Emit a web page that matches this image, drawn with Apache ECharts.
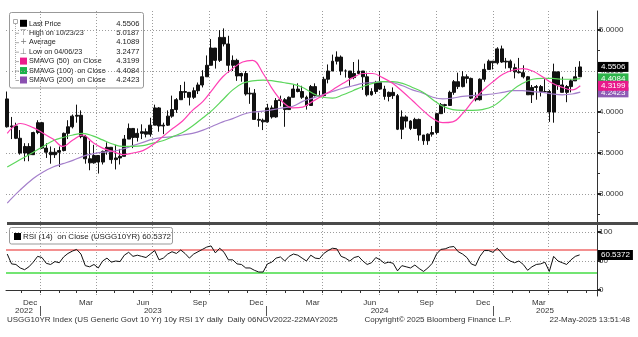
<!DOCTYPE html>
<html><head><meta charset="utf-8">
<script src="https://cdn.jsdelivr.net/npm/echarts@6/dist/echarts.min.js"></script>
<style>html,body{margin:0;padding:0;background:#fff}#c{width:638px;height:337px}</style>
</head><body><div id="c"></div>
<script>
const FONT = "'Liberation Sans',Arial,sans-serif";
const FS = 8;

// ---- weekly price data (US 10Y yield), week of 07-Nov-2022 .. week of 19-May-2025
const firstOpen = 4.16;
const weekHigh = [4.25,3.94,3.87,3.78,3.62,3.62,3.76,3.90,3.88,3.62,3.58,3.56,3.58,3.75,3.90,3.97,4.09,4.02,3.72,3.65,3.60,3.47,3.53,3.63,3.57,3.60,3.55,3.72,3.86,3.80,3.80,3.85,3.80,3.93,4.09,4.06,3.87,4.02,4.20,4.17,4.33,4.37,4.24,4.30,4.36,4.51,4.69,4.89,4.78,5.00,5.02,4.93,4.69,4.65,4.48,4.50,4.30,4.28,3.99,3.92,4.10,4.08,4.17,4.20,4.17,4.19,4.33,4.35,4.32,4.20,4.33,4.35,4.26,4.43,4.58,4.70,4.74,4.69,4.52,4.50,4.61,4.64,4.50,4.48,4.29,4.38,4.50,4.32,4.25,4.30,4.22,4.02,3.96,3.90,3.93,3.92,3.72,3.74,3.83,3.99,4.11,4.10,4.26,4.39,4.48,4.50,4.46,4.42,4.24,4.41,4.59,4.64,4.62,4.79,4.81,4.66,4.64,4.59,4.66,4.57,4.44,4.33,4.33,4.33,4.40,4.27,4.59,4.49,4.43,4.33,4.40,4.55,4.62];
const weekLow = [3.81,3.67,3.67,3.48,3.40,3.40,3.55,3.73,3.55,3.44,3.37,3.44,3.33,3.52,3.67,3.80,3.87,3.68,3.37,3.29,3.37,3.25,3.36,3.48,3.37,3.30,3.36,3.46,3.67,3.56,3.64,3.67,3.69,3.70,3.84,3.76,3.73,3.83,3.93,3.99,4.15,4.17,4.08,4.16,4.22,4.30,4.43,4.57,4.53,4.61,4.80,4.48,4.50,4.38,4.37,4.20,4.10,3.91,3.82,3.78,3.87,3.92,3.93,4.07,3.82,4.03,4.18,4.24,4.16,4.03,4.08,4.19,4.18,4.19,4.35,4.50,4.58,4.45,4.42,4.32,4.40,4.47,4.27,4.19,4.20,4.22,4.27,4.15,4.13,4.16,3.78,3.67,3.81,3.78,3.80,3.65,3.60,3.60,3.70,3.73,3.98,3.99,4.08,4.21,4.28,4.30,4.35,4.16,4.13,4.14,4.37,4.52,4.52,4.58,4.60,4.53,4.49,4.41,4.47,4.41,4.21,4.11,4.15,4.19,4.24,3.88,3.87,4.27,4.24,4.12,4.24,4.38,4.44];
const weekClose = [3.82,3.83,3.68,3.50,3.58,3.48,3.75,3.87,3.56,3.51,3.48,3.51,3.53,3.74,3.82,3.95,3.96,3.70,3.43,3.38,3.47,3.39,3.52,3.57,3.42,3.44,3.46,3.67,3.80,3.69,3.74,3.76,3.73,3.84,4.05,3.83,3.84,3.95,4.03,4.15,4.25,4.24,4.18,4.26,4.33,4.43,4.57,4.78,4.63,4.91,4.83,4.57,4.63,4.44,4.47,4.22,4.23,3.91,3.90,3.88,4.05,3.94,4.14,4.15,4.03,4.18,4.28,4.25,4.18,4.08,4.31,4.20,4.20,4.40,4.50,4.62,4.67,4.50,4.50,4.42,4.47,4.50,4.43,4.21,4.25,4.36,4.28,4.19,4.24,4.20,3.79,3.94,3.89,3.80,3.91,3.72,3.65,3.73,3.75,3.98,4.09,4.08,4.24,4.37,4.31,4.43,4.41,4.17,4.15,4.40,4.52,4.62,4.60,4.77,4.61,4.62,4.54,4.49,4.48,4.43,4.21,4.30,4.31,4.25,4.25,4.00,4.49,4.33,4.24,4.31,4.38,4.43,4.55];
const rsiValues = [62,45,44,38,35,40,48,58,56,46,44,49,47,57,63,67,70,62,42,40,44,38,50,55,48,50,49,60,65,58,60,58,56,62,68,52,55,62,66,63,69,63,55,62,66,70,74,76,64,72,65,52,52,45,44,38,38,34,31,31,45,48,55,57,50,58,62,60,55,50,60,55,54,63,68,72,71,58,55,50,56,58,50,44,47,56,52,46,48,46,33,42,40,38,43,37,32,38,46,62,70,71,74,75,66,62,56,45,42,58,68,68,65,72,64,55,50,47,50,44,34,40,44,45,48,32,58,50,47,44,52,58,60.5372];

// ---- moving averages
const maDates = ['2022-11-09','2022-11-30','2022-12-21','2023-01-06','2023-01-22','2023-02-07','2023-02-23','2023-03-11','2023-03-27','2023-04-12','2023-04-28','2023-05-15','2023-05-31','2023-06-16','2023-07-02','2023-07-18','2023-08-03','2023-08-19','2023-09-04','2023-09-21','2023-10-07','2023-10-23','2023-11-08','2023-11-24','2023-12-10','2023-12-27','2024-01-12','2024-01-28','2024-02-13','2024-02-29','2024-03-16','2024-04-01','2024-04-17','2024-05-04','2024-05-20','2024-06-05','2024-06-21','2024-07-07','2024-07-23','2024-08-08','2024-08-24','2024-09-10','2024-09-26','2024-10-12','2024-10-28','2024-11-13','2024-11-29','2024-12-15','2025-01-01','2025-01-17','2025-02-02','2025-02-18','2025-03-06','2025-03-22','2025-04-07','2025-04-23','2025-05-09','2025-05-22'];
const sma50 = [3.74,3.86,3.81,3.74,3.67,3.58,3.66,3.72,3.63,3.56,3.52,3.48,3.50,3.53,3.60,3.70,3.80,3.89,4.02,4.13,4.28,4.43,4.53,4.61,4.63,4.47,4.27,4.12,4.05,4.06,4.13,4.20,4.27,4.35,4.42,4.47,4.47,4.42,4.35,4.25,4.14,4.02,3.92,3.87,3.88,3.98,4.13,4.26,4.37,4.46,4.51,4.53,4.50,4.43,4.35,4.30,4.27,4.3199];
const sma100 = [3.33,3.42,3.51,3.58,3.65,3.69,3.72,3.74,3.71,3.66,3.61,3.58,3.58,3.59,3.62,3.65,3.70,3.75,3.83,3.93,4.03,4.15,4.27,4.35,4.38,4.39,4.38,4.36,4.34,4.30,4.23,4.18,4.17,4.21,4.26,4.31,4.35,4.37,4.37,4.35,4.30,4.24,4.15,4.07,4.03,4.02,4.02,4.03,4.07,4.16,4.27,4.35,4.40,4.41,4.41,4.40,4.40,4.4084];
const sma200 = [2.89,3.05,3.19,3.27,3.33,3.37,3.41,3.46,3.49,3.51,3.52,3.55,3.59,3.63,3.67,3.69,3.70,3.72,3.74,3.78,3.83,3.88,3.92,3.97,4.00,4.01,4.03,4.05,4.07,4.13,4.17,4.21,4.25,4.29,4.32,4.35,4.36,4.37,4.36,4.32,4.27,4.23,4.18,4.16,4.17,4.19,4.20,4.21,4.22,4.24,4.26,4.26,4.25,4.24,4.22,4.21,4.22,4.2423];

// ---- last values / legend
const lastPrice = 4.5506, last50 = 4.3199, last100 = 4.4084, last200 = 4.2423, lastRsi = 60.5372;
const legendLabels = ['Last Price','High on 10/23/23','Average','Low on 04/06/23','SMAVG (50)  on Close','SMAVG (100)  on Close','SMAVG (200)  on Close'];
const legendValues = ['4.5506','5.0187','4.1089','3.2477','4.3199','4.4084','4.2423'];
const rsiLegend = 'RSI (14)  on Close (USGG10YR) 60.5372';

// ---- axis ticks
const priceTicks = [3.0,3.5,4.0,4.5,5.0];
const priceMinor = [2.75,3.25,3.75,4.25,4.75,5.25];
const rsiTicks = [0,50,100];
const quarterStarts = ['2023-01-01','2023-04-01','2023-07-01','2023-10-01','2024-01-01','2024-04-01','2024-07-01','2024-10-01','2025-01-01','2025-04-01'];
const monthLabelDates = ['2022-12-16','2023-03-16','2023-06-16','2023-09-16','2023-12-16','2024-03-16','2024-06-16','2024-09-16','2024-12-16','2025-03-16'];
const monthNames = ['Jan','Feb','Mar','Apr','May','Jun','Jul','Aug','Sep','Oct','Nov','Dec'];
const yearLabelDates = ['2022-12-06','2023-07-02','2024-07-02','2025-03-26'];
const yearStarts = ['2023-01-01','2024-01-01','2025-01-01'];
const footerLeft = 'USGG10YR Index (US Generic Govt 10 Yr) 10y RSI 1Y daily  Daily 06NOV2022-22MAY2025';
const footerMid = 'Copyright\u00a9 2025 Bloomberg Finance L.P.';
const footerRight = '22-May-2025 13:51:48';

function d(s){ const p = s.split('-').map(Number); return new Date(p[0], p[1]-1, p[2]).getTime(); }
const tMin = d('2022-11-07'), tMax = d('2025-06-18');
const weekDates = weekHigh.map((_, i) => new Date(2022, 10, 9 + 7*i).getTime());
const monthTicks = [];
for (let y = 2022, m = 11; y < 2025 || m <= 5; ) { monthTicks.push(new Date(y, m, 1).getTime()); m++; if (m > 11) { m = 0; y++; } }

const candles = weekHigh.map((h, i) => [weekDates[i], i === 0 ? firstOpen : weekClose[i-1], weekClose[i], weekLow[i], h]);
const maLine = arr => maDates.map((s, i) => [d(s), arr[i]]);

const grid = { type: [1,2], color: '#9c9c9c', width: 1 };
const txt = { fontFamily: FONT, fontSize: FS, color: '#333' };
const CLEAR = 'rgba(0,0,0,0)';

function tag(value, bg, z) {
  return { silent: true, symbol: 'none', z: z, animation: false,
    lineStyle: { color: CLEAR, width: 1, opacity: 1 },
    label: { show: true, position: 'end', distance: 1, opacity: 1, formatter: value.toFixed(4),
      backgroundColor: bg, color: '#fff', fontFamily: FONT, fontSize: FS, padding: [1,3,1,3], lineHeight: 8 },
    data: [{ yAxis: value }] };
}

const chart = echarts.init(document.getElementById('c'), null, { renderer: 'canvas' });

const rowY = i => 23.3 + i * 9.45;
const sqColors = ['#000', null, null, null, '#ec1c8c', '#1db34b', '#8a4fb0'];
const glyphs = [null, '\u22a4', '+', '\u22a5', null, null, null];
const F = FS + 'px ' + FONT;
const legendEls = [
  { type: 'rect', shape: { x: 9.5, y: 12.5, width: 134, height: 75.5, r: 2 }, style: { fill: '#fff', stroke: '#999', lineWidth: 1 } },
  { type: 'rect', shape: { x: 13.5, y: 19.5, width: 4, height: 4 }, style: { fill: '#fff', stroke: '#aaa', lineWidth: 1 } },
  { type: 'line', shape: { x1: 15.5, y1: 24, x2: 15.5, y2: rowY(6) }, style: { stroke: '#aaa', lineWidth: 1, lineDash: [1,1] } }
];
legendLabels.forEach((lab, i) => {
  const y = rowY(i);
  if (i > 0) legendEls.push({ type: 'line', shape: { x1: 15.5, y1: y + 0.5, x2: 19, y2: y + 0.5 }, style: { stroke: '#aaa', lineWidth: 1 } });
  if (sqColors[i]) legendEls.push({ type: 'rect', shape: { x: 20, y: y - 3.5, width: 7, height: 7 }, style: { fill: sqColors[i] } });
  if (glyphs[i]) legendEls.push({ type: 'text', style: { text: glyphs[i], x: 23.5, y: y, font: '8px DejaVu Sans', fill: '#777', align: 'center', verticalAlign: 'middle', textAlign: 'center', textVerticalAlign: 'middle' } });
  legendEls.push({ type: 'text', x: 29, y: y, scaleX: 0.9, style: { text: lab, x: 0, y: 0, font: F, fill: '#222', verticalAlign: 'middle', textVerticalAlign: 'middle' } });
  legendEls.push({ type: 'text', x: 139.5, y: y, scaleX: 0.95, style: { text: legendValues[i], x: 0, y: 0, font: F, fill: '#222', align: 'right', textAlign: 'right', verticalAlign: 'middle', textVerticalAlign: 'middle' } });
});

const xBase = { type: 'value', min: tMin, max: tMax, scale: true };
const option = {
  animation: false,
  backgroundColor: '#fff',
  grid: [
    { left: 6, right: 41, top: 11, height: 211, outerBoundsMode: 'none', containLabel: false },
    { left: 6, right: 41, top: 225, height: 71, outerBoundsMode: 'none', containLabel: false }
  ],
  xAxis: [
    { ...xBase, gridIndex: 0, axisLine: { show: false }, axisLabel: { show: false },
      axisTick: { show: false, customValues: quarterStarts.map(d) }, splitLine: { show: true, lineStyle: grid } },
    { ...xBase, gridIndex: 1, position: 'bottom',
      axisLine: { show: true, lineStyle: { color: '#333', width: 1 } },
      axisTick: { show: true, length: 3, customValues: monthTicks, lineStyle: { color: '#333' } },
      axisLabel: { show: true, customValues: monthLabelDates.map(d), margin: 3, ...txt,
        formatter: v => monthNames[new Date(v).getMonth()] },
      splitLine: { show: false } },
    { ...xBase, gridIndex: 1, position: 'bottom', offset: 10,
      axisLine: { show: false },
      axisTick: { show: true, length: 10, customValues: yearStarts.map(d), lineStyle: { color: '#555' } },
      axisLabel: { show: true, customValues: yearLabelDates.map(d), margin: 1, ...txt,
        formatter: v => String(new Date(v).getFullYear()) },
      splitLine: { show: false } },
    { ...xBase, gridIndex: 1, position: 'top', axisLine: { show: false }, axisLabel: { show: false },
      axisTick: { show: false, customValues: quarterStarts.map(d) }, splitLine: { show: true, lineStyle: grid } }
  ],
  yAxis: [
    { type: 'value', gridIndex: 0, position: 'right', min: 2.659, max: 5.232, scale: true,
      axisLine: { show: true, lineStyle: { color: '#333', width: 1 } },
      axisTick: { show: true, length: 4, customValues: priceTicks, lineStyle: { color: '#222', width: 2 } },
      axisLabel: { show: true, customValues: priceTicks, margin: 2, ...txt, formatter: v => v.toFixed(4) },
      splitLine: { show: true, lineStyle: grid } },
    { type: 'value', gridIndex: 0, position: 'right', min: 2.659, max: 5.232, scale: true,
      axisLine: { show: false }, axisLabel: { show: false },
      axisTick: { show: true, length: 3, customValues: priceMinor, lineStyle: { color: '#333', width: 1 } },
      splitLine: { show: false } },
    { type: 'value', gridIndex: 1, position: 'right', min: -10.34, max: 112.07, scale: true,
      axisLine: { show: true, lineStyle: { color: '#333', width: 1 } },
      axisTick: { show: true, length: 4, customValues: rsiTicks, lineStyle: { color: '#222', width: 2 } },
      axisLabel: { show: true, customValues: rsiTicks, margin: 2, ...txt },
      splitLine: { show: true, lineStyle: grid } }
  ],
  series: [
    { type: 'candlestick', name: 'Last Price', xAxisIndex: 0, yAxisIndex: 0, data: candles, encode: { x: 0, y: [1,2,3,4] },
      barWidth: 3.4, z: 2, clip: false,
      itemStyle: { color: '#111', color0: '#111', borderColor: '#111', borderColor0: '#111', borderWidth: 1 },
      markLine: tag(lastPrice, '#000', 9) },
    { type: 'line', name: 'SMAVG (200)', xAxisIndex: 0, yAxisIndex: 0, data: maLine(sma200), symbol: 'none', smooth: 0.4, z: 3, clip: false,
      lineStyle: { color: '#a47fcb', width: 1.2 }, markLine: tag(last200, '#8e5bb5', 6) },
    { type: 'line', name: 'SMAVG (100)', xAxisIndex: 0, yAxisIndex: 0, data: maLine(sma100), symbol: 'none', smooth: 0.4, z: 3, clip: false,
      lineStyle: { color: '#5bd65b', width: 1.2 }, markLine: tag(last100, '#2db34a', 7) },
    { type: 'line', name: 'SMAVG (50)', xAxisIndex: 0, yAxisIndex: 0, data: maLine(sma50), symbol: 'none', smooth: 0.4, z: 4, clip: false,
      lineStyle: { color: '#ff3fb4', width: 1.2 }, markLine: tag(last50, '#e8198b', 8) },
    { type: 'line', name: 'RSI', xAxisIndex: 1, yAxisIndex: 2, data: weekDates.map((t, i) => [t, rsiValues[i]]), symbol: 'none', z: 3,
      lineStyle: { color: '#111', width: 1 },
      markLine: { silent: true, symbol: 'none', z: 1, animation: false, label: { show: false },
        data: [ { yAxis: 70, lineStyle: { color: '#f39090', width: 2, type: 'solid' } },
                { yAxis: 30, lineStyle: { color: '#44dd44', width: 1.5, type: 'solid' } } ] } },
    { type: 'line', name: 'RSI tag', xAxisIndex: 1, yAxisIndex: 2, data: weekDates.map((t, i) => [t, rsiValues[i]]), symbol: 'none',
      lineStyle: { color: CLEAR }, silent: true, z: 5, clip: false, markLine: tag(lastRsi, '#000', 9) }
  ],
  graphic: [
    { type: 'rect', shape: { x: 7, y: 222, width: 631, height: 3 }, style: { fill: '#4a4a4a' }, z: 50 },
    { type: 'group', z: 100, children: legendEls },
    { type: 'group', z: 100, children: [
      { type: 'rect', shape: { x: 9.5, y: 227.5, width: 163, height: 16.5, r: 2 }, style: { fill: '#fff', stroke: '#999', lineWidth: 1 } },
      { type: 'rect', shape: { x: 14, y: 233, width: 7, height: 7 }, style: { fill: '#000' } },
      { type: 'text', style: { text: rsiLegend, x: 23, y: 236.5, font: F, fill: '#222', verticalAlign: 'middle', textVerticalAlign: 'middle' } }
    ] },
    { type: 'text', z: 100, style: { text: footerLeft, x: 7, y: 320, font: F, fill: '#333', verticalAlign: 'middle', textVerticalAlign: 'middle' } },
    { type: 'text', z: 100, style: { text: footerMid, x: 438, y: 320, font: F, fill: '#333', align: 'center', textAlign: 'center', verticalAlign: 'middle', textVerticalAlign: 'middle' } },
    { type: 'text', z: 100, style: { text: footerRight, x: 630, y: 320, font: F, fill: '#333', align: 'right', textAlign: 'right', verticalAlign: 'middle', textVerticalAlign: 'middle' } }
  ]
};
chart.setOption(option);
</script></body></html>
